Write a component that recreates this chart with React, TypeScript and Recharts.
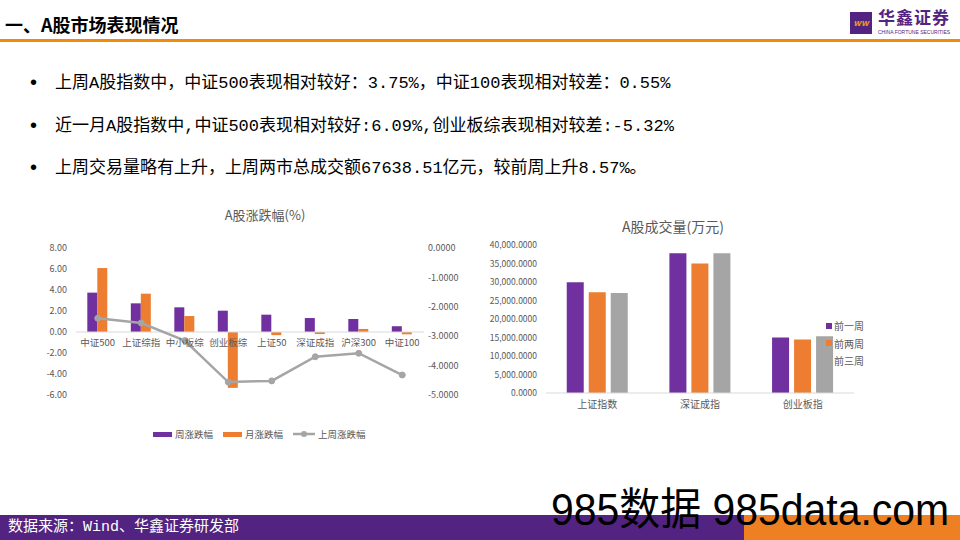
import React from 'react';
import { ComposedChart, BarChart, Bar, Line, XAxis, YAxis, ReferenceLine, Legend } from 'recharts';

const FONT = '"Noto Sans CJK SC", "Noto Sans", sans-serif';
const TEXT_FONT = '"Liberation Mono", "Noto Sans CJK SC", monospace';
const GREY_TEXT = '#595959';
const PURPLE = '#7030A0';
const ORANGE = '#ED7D31';
const GREY = '#A5A5A5';
const BRAND = '#532381';

// A股涨跌幅(%)
const indexNames = ['中证500', '上证综指', '中小板综', '创业板综', '上证50', '深证成指', '沪深300', '中证100'];
const weekChange = [3.75, 2.73, 2.35, 2.03, 1.65, 1.33, 1.24, 0.55];
const monthChange = [6.09, 3.65, 1.52, -5.32, -0.3, -0.19, 0.29, -0.22];
const lastWeekChange = [-2.39, -2.55, -3.15, -4.56, -4.52, -3.7, -3.58, -4.32];
const changeSeriesNames = ['周涨跌幅', '月涨跌幅', '上周涨跌幅'];
const leftTicks = [-6, -4, -2, 0, 2, 4, 6, 8];
const rightTicks = [0, -0.5, -1, -1.5, -2, -2.5, -3, -3.5, -4, -4.5, -5];

// A股成交量(万元)
const volumeNames = ['上证指数', '深证成指', '创业板指'];
const volWeek1 = [29960, 37760, 14980];
const volWeek2 = [27260, 34980, 14440];
const volWeek3 = [27000, 37760, 15340];
const volumeSeriesNames = ['前一周', '前两周', '前三周'];
const volTicks = [0, 5000, 10000, 15000, 20000, 25000, 30000, 35000, 40000];

const bullets = [
  '上周A股指数中，中证500表现相对较好：3.75%，中证100表现相对较差：0.55%',
  '近一月A股指数中,中证500表现相对较好:6.09%,创业板综表现相对较差:-5.32%',
  '上周交易量略有上升，上周两市总成交额67638.51亿元，较前周上升8.57%。',
];

const changeData = indexNames.map((name, i) => ({
  name,
  week: weekChange[i],
  month: monthChange[i],
  lastWeek: lastWeekChange[i],
}));

const volumeData = volumeNames.map((name, i) => ({
  name,
  w1: volWeek1[i],
  w2: volWeek2[i],
  w3: volWeek3[i],
}));

// left chart sizing, used to put the category labels on the zero line
const CHG_W = 428;
const CHG_H = 220;
const CHG_MARGIN = { top: 8, right: 0, bottom: 64, left: 0 };
const CHG_XAXIS_H = 1;
const CHG_PLOT_H = CHG_H - CHG_MARGIN.top - CHG_MARGIN.bottom - CHG_XAXIS_H;
const LEFT_MIN = leftTicks[0];
const LEFT_MAX = leftTicks[leftTicks.length - 1];

// keep legend entries in series order (recharts sorts them by name)
const inOrder = (payload: any[], order: string[]) =>
  [...payload].sort((a, b) => order.indexOf(a.value) - order.indexOf(b.value));

function ZeroLineTick(props: any) {
  const { x, y, payload } = props;
  const zeroY = y - (CHG_PLOT_H * (0 - LEFT_MIN)) / (LEFT_MAX - LEFT_MIN);
  return (
    <text x={x} y={zeroY + 14} textAnchor="middle" fontSize={9.5} fill={GREY_TEXT} fontFamily={FONT}>
      {payload.value}
    </text>
  );
}

function ChangeLegend(props: any) {
  const { payload = [] } = props;
  return (
    <div style={{ display: 'flex', alignItems: 'center', fontSize: 9.5, color: GREY_TEXT, fontFamily: FONT, lineHeight: '14px', whiteSpace: 'nowrap' }}>
      {inOrder(payload, changeSeriesNames).map((p: any) => (
        <div key={p.value} style={{ display: 'flex', alignItems: 'center', marginRight: 10 }}>
          {p.type === 'line' ? (
            <svg width={22} height={8} style={{ marginRight: 3 }}>
              <line x1={0} y1={4} x2={22} y2={4} stroke={p.color} strokeWidth={2.5} />
              <circle cx={11} cy={4} r={3} fill={p.color} />
            </svg>
          ) : (
            <span style={{ display: 'inline-block', width: 19, height: 5, background: p.color, marginRight: 3 }} />
          )}
          {p.value}
        </div>
      ))}
    </div>
  );
}

function VolumeLegend(props: any) {
  const { payload = [] } = props;
  return (
    <div style={{ fontSize: 10, color: GREY_TEXT, fontFamily: FONT, lineHeight: '17.5px', whiteSpace: 'nowrap' }}>
      {inOrder(payload, volumeSeriesNames).map((p: any) => (
        <div key={p.value} style={{ display: 'flex', alignItems: 'center' }}>
          <span style={{ display: 'inline-block', width: 6, height: 6, background: p.color, marginRight: 2 }} />
          {p.value}
        </div>
      ))}
    </div>
  );
}

function ChangeChart() {
  return (
    <ComposedChart width={CHG_W} height={CHG_H} data={changeData} margin={CHG_MARGIN} barCategoryGap="26%" barGap={0}>
      <XAxis
        dataKey="name"
        height={CHG_XAXIS_H}
        axisLine={false}
        tickLine={false}
        tickSize={0}
        tickMargin={0}
        interval={0}
        tick={<ZeroLineTick />}
      />
      <YAxis
        yAxisId="left"
        width={36}
        domain={[LEFT_MIN, LEFT_MAX]}
        ticks={leftTicks}
        axisLine={false}
        tickLine={false}
        tickSize={0}
        tickMargin={9}
        tick={{ fontSize: 9, fill: GREY_TEXT, fontFamily: FONT }}
        tickFormatter={(v: number) => v.toFixed(2)}
      />
      <YAxis
        yAxisId="right"
        orientation="right"
        width={44}
        domain={[-5, 0]}
        ticks={rightTicks}
        axisLine={false}
        tickLine={false}
        tickSize={0}
        tickMargin={4}
        tick={{ fontSize: 9, fill: GREY_TEXT, fontFamily: FONT, textAnchor: 'start' }}
        tickFormatter={(v: number) => v.toFixed(4)}
      />
      <ReferenceLine yAxisId="left" y={0} stroke="#D9D9D9" strokeWidth={1} />
      <Bar yAxisId="left" dataKey="week" name={changeSeriesNames[0]} fill={PURPLE} isAnimationActive={false} />
      <Bar yAxisId="left" dataKey="month" name={changeSeriesNames[1]} fill={ORANGE} isAnimationActive={false} />
      <Line
        yAxisId="right"
        dataKey="lastWeek"
        name={changeSeriesNames[2]}
        type="linear"
        stroke={GREY}
        strokeWidth={2.5}
        dot={{ r: 3, fill: GREY, stroke: GREY, strokeWidth: 1 }}
        isAnimationActive={false}
      />
      <Legend
        layout="horizontal"
        align="center"
        verticalAlign="middle"
        content={<ChangeLegend />}
        wrapperStyle={{ left: 113, top: 187, width: 'auto' }}
      />
    </ComposedChart>
  );
}

function VolumeChart() {
  return (
    <BarChart width={368} height={188} data={volumeData} margin={{ top: 10, right: 0, bottom: 0, left: 0 }} barCategoryGap="20.2%" barGap={5}>
      <XAxis
        dataKey="name"
        height={30}
        axisLine={{ stroke: '#D9D9D9' }}
        tickLine={false}
        tickSize={0}
        tickMargin={8}
        interval={0}
        tick={{ fontSize: 10, fill: GREY_TEXT, fontFamily: FONT }}
      />
      <YAxis
        width={60}
        domain={[0, 40000]}
        ticks={volTicks}
        axisLine={false}
        tickLine={false}
        tickSize={0}
        tickMargin={9}
        tick={{ fontSize: 8.5, fill: GREY_TEXT, fontFamily: FONT }}
        tickFormatter={(v: number) => v.toLocaleString('en-US', { minimumFractionDigits: 4, maximumFractionDigits: 4 })}
      />
      <Bar dataKey="w1" name={volumeSeriesNames[0]} fill={PURPLE} isAnimationActive={false} />
      <Bar dataKey="w2" name={volumeSeriesNames[1]} fill={ORANGE} isAnimationActive={false} />
      <Bar dataKey="w3" name={volumeSeriesNames[2]} fill={GREY} isAnimationActive={false} />
      <Legend
        layout="vertical"
        align="center"
        verticalAlign="middle"
        content={<VolumeLegend />}
        wrapperStyle={{ left: 340, top: 82, width: 'auto' }}
      />
    </BarChart>
  );
}

export default function App() {
  return (
    <div style={{ position: 'absolute', left: 0, top: 0, width: 960, height: 540, overflow: 'hidden', background: '#fff', fontFamily: FONT }}>
      {/* header */}
      <div style={{ position: 'absolute', left: 5, top: 12, lineHeight: '24px', fontSize: 18, fontWeight: 700, color: '#000' }}>
        一、A股市场表现情况
      </div>
      <div style={{ position: 'absolute', left: 0, top: 39, width: 960, height: 3, background: '#F08C0A' }} />
      <div style={{ position: 'absolute', left: 850, top: 12, width: 22, height: 22, background: BRAND, color: '#F39A1E', fontSize: 9, fontWeight: 700, fontStyle: 'italic', lineHeight: '22px', textAlign: 'center' }}>
        ww
      </div>
      <div style={{ position: 'absolute', left: 878, top: 7, fontSize: 17, fontWeight: 700, color: BRAND, letterSpacing: 1, lineHeight: '20px' }}>
        华鑫证券
      </div>
      <div style={{ position: 'absolute', left: 878, top: 29, fontSize: 5, color: BRAND, fontFamily: '"Liberation Sans", sans-serif', lineHeight: '6px', whiteSpace: 'nowrap' }}>
        CHINA FORTUNE SECURITIES
      </div>

      {/* bullets */}
      {bullets.map((b, i) => (
        <React.Fragment key={i}>
          <div style={{ position: 'absolute', left: 30, top: 70 + i * 42.5, lineHeight: '24px', fontSize: 20, color: '#000', fontFamily: '"Liberation Sans", sans-serif' }}>•</div>
          <div style={{ position: 'absolute', left: 55, top: 72 + i * 42.5, lineHeight: '24px', fontSize: 17, color: '#000', fontFamily: TEXT_FONT, whiteSpace: 'nowrap' }}>
            {b}
          </div>
        </React.Fragment>
      ))}

      {/* left chart */}
      <div style={{ position: 'absolute', left: 40, top: 205, width: 450, textAlign: 'center', fontSize: 13, color: GREY_TEXT, lineHeight: '20px' }}>
        A股涨跌幅(%)
      </div>
      <div style={{ position: 'absolute', left: 40, top: 240 }}>
        <ChangeChart />
      </div>

      {/* right chart */}
      <div style={{ position: 'absolute', left: 573, top: 216, width: 200, textAlign: 'center', fontSize: 14, color: GREY_TEXT, lineHeight: '20px' }}>
        A股成交量(万元)
      </div>
      <div style={{ position: 'absolute', left: 486, top: 235 }}>
        <VolumeChart />
      </div>

      {/* footer */}
      <div style={{ position: 'absolute', left: 0, top: 515, width: 744, height: 25, background: BRAND }} />
      <div style={{ position: 'absolute', left: 744, top: 515, width: 216, height: 25, background: '#EE7F22' }} />
      <div style={{ position: 'absolute', left: 8, top: 515, lineHeight: '25px', fontSize: 15, color: '#fff', fontFamily: TEXT_FONT, whiteSpace: 'nowrap' }}>
        数据来源：Wind、华鑫证券研发部
      </div>
      <div style={{ position: 'absolute', left: 551, top: 488, lineHeight: '44px', fontSize: 44, color: '#000', fontFamily: '"Liberation Sans", "Noto Sans CJK SC", sans-serif', whiteSpace: 'nowrap', transform: 'scaleX(0.93)', transformOrigin: 'left center' }}>
        985数据 985data.com
      </div>
    </div>
  );
}
